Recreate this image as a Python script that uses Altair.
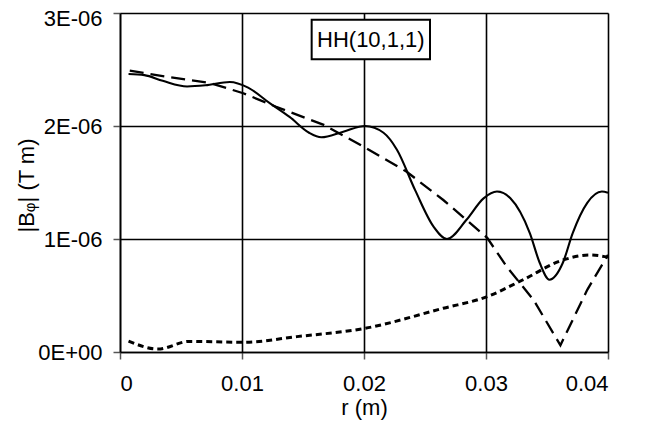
import altair as alt
import pandas as pd

# Solid curve
r_solid = [0.0007, 0.002, 0.0035, 0.0055, 0.007, 0.009, 0.0105, 0.0123, 0.0139, 0.0155, 0.0165,
           0.0183, 0.0201, 0.0216, 0.0227, 0.0242, 0.0257, 0.0268, 0.0284, 0.0298, 0.0309, 0.032,
           0.0336, 0.0344, 0.0352, 0.0363, 0.0371, 0.0383, 0.0395, 0.040]
b_solid = [2.46, 2.45, 2.40, 2.35, 2.36, 2.39, 2.34, 2.20, 2.08, 1.94, 1.90,
           1.95, 2.00, 1.94, 1.79, 1.43, 1.11, 1.00, 1.17, 1.36, 1.42, 1.36,
           1.05, 0.79, 0.64, 0.79, 1.05, 1.32, 1.42, 1.41]

# Long-dashed curve
r_dash = [0.0008, 0.003, 0.0074, 0.0101, 0.0128, 0.0167, 0.0199, 0.0235, 0.0265, 0.0301,
          0.0317, 0.0339, 0.0361, 0.0383, 0.040]
b_dash = [2.49, 2.45, 2.38, 2.29, 2.17, 2.01, 1.82, 1.595, 1.345, 1.01,
          0.755, 0.46, 0.06, 0.55, 0.86]

# Short-dashed curve
r_dot = [0.0007, 0.0031, 0.0057, 0.0101, 0.0145, 0.0201, 0.0265, 0.0301, 0.033, 0.0363, 0.0385, 0.040]
b_dot = [0.097, 0.026, 0.094, 0.086, 0.136, 0.21, 0.387, 0.49, 0.637, 0.814, 0.858, 0.84]

x_ticks = [0, 0.01, 0.02, 0.03, 0.04]
y_ticks = [0, 1e-6, 2e-6, 3e-6]

label_text = ["HH(10,1,1)"]
box_r = [0.01571, 0.02541]
box_b = [2.59e-6, 2.94e-6]

def frame(r, b, name):
    return pd.DataFrame({"r": r, "B": [v * 1e-6 for v in b], "s": name})

solid = frame(r_solid, b_solid, "solid")
dash = frame(r_dash, b_dash, "dash")
dot = frame(r_dot, b_dot, "dot")

FONT = "Liberation Sans"
FS = 22

xs = alt.Scale(domain=[0, 0.04], nice=False, zero=False)
ys = alt.Scale(domain=[0, 3e-6], nice=False, zero=False)

xax = alt.Axis(values=x_ticks, grid=True, gridColor="black", gridWidth=1.6, gridOpacity=1,
               domainColor="black", domainWidth=1.6, tickColor="#555555", tickSize=7, tickWidth=1.5,
               labelFont=FONT, labelFontSize=FS, labelColor="black", labelPadding=14,
               labelExpr="datum.value == 0 ? '0' : format(datum.value, '.2f')",
               title="r (m)", titleFont=FONT, titleFontSize=FS, titleFontWeight="normal",
               titleColor="black", titleX=244, titleY=55, titleBaseline="middle", titleAlign="center")
yax = alt.Axis(values=y_ticks, grid=True, gridColor="black", gridWidth=1.6, gridOpacity=1,
               domainColor="black", domainWidth=1.6, tickColor="#555555", tickSize=7, tickWidth=1.5,
               labelFont=FONT, labelFontSize=FS, labelColor="black", labelPadding=11,
               labelOffset={"condition": {"test": "datum.value >= 2.9e-6", "value": 5}, "value": 0},
               labelExpr="datum.value == 0 ? '0E+00' : round(datum.value*1e6) + 'E-06'",
               title="|Bᵩ| (T m)", titleFont=FONT, titleFontSize=FS, titleFontWeight="normal",
               titleColor="black", titleX=-94, titleY=172, titleAngle=270,
               titleBaseline="middle", titleAlign="center")

base_x = alt.X("r:Q", scale=xs, axis=xax)
base_y = alt.Y("B:Q", scale=ys, axis=yax)

l_solid = alt.Chart(solid).mark_line(color="black", strokeWidth=2.1, interpolate="monotone").encode(
    x=base_x, y=base_y)
l_dash = alt.Chart(dash).mark_line(color="black", strokeWidth=2.3, strokeDash=[14, 7],
                                   interpolate="linear").encode(x=base_x, y=base_y)
l_dot = alt.Chart(dot).mark_line(color="black", strokeWidth=3, strokeDash=[6, 4],
                                 interpolate="monotone").encode(x=base_x, y=base_y)

box_df = pd.DataFrame({"r": [box_r[0]], "r2": [box_r[1]], "B": [box_b[0]], "B2": [box_b[1]],
                       "rc": [(box_r[0] + box_r[1]) / 2], "Bc": [(box_b[0] + box_b[1]) / 2],
                       "t": label_text})
box = alt.Chart(box_df).mark_rect(fill="white", stroke="black", strokeWidth=2).encode(
    x=alt.X("r:Q", scale=xs), x2="r2:Q", y=alt.Y("B:Q", scale=ys), y2="B2:Q")
txt = alt.Chart(box_df).mark_text(font=FONT, fontSize=FS, color="black", baseline="middle",
                                  align="center").encode(
    x=alt.X("rc:Q", scale=xs), y=alt.Y("Bc:Q", scale=ys), text="t:N")

chart = (l_dot + l_dash + l_solid + box + txt).properties(
    width=488, height=339,
    autosize=alt.AutoSizeParams(type="none"),
    padding={"left": 112, "top": 5, "right": 31, "bottom": 68},
).configure_view(stroke="black", strokeWidth=1.6).configure(background="white")

chart.save("out.html", embed_options={"renderer": "svg", "actions": False})
